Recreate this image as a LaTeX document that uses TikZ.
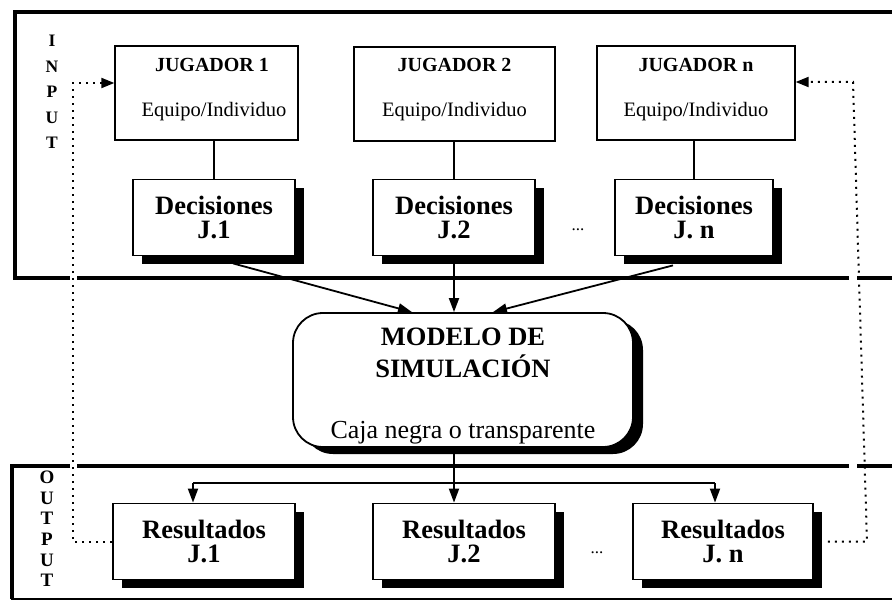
\documentclass[tikz,border=0pt]{standalone}
\usepackage{fontspec}
\setmainfont{Liberation Serif}
\usetikzlibrary{arrows.meta,shadows,calc}
\begin{document}
\begin{tikzpicture}[x=1pt,y=-1pt,
  frame/.style={line width=4.5pt},
  jbox/.style={draw, line width=1.3pt, minimum width=#1, minimum height=94pt, inner sep=0pt},
  jtitle/.style={anchor=base, font=\bfseries\fontsize{20}{20}\selectfont, inner sep=0pt},
  jsub/.style={anchor=base, font=\fontsize{20.5}{20.5}\selectfont, inner sep=0pt},
  sbox/.style={draw, line width=1.8pt, fill=white, inner sep=0pt, align=center,
    minimum width=#1, minimum height=76pt,
    font=\bfseries\fontsize{26.5}{24.5}\selectfont,
    drop shadow={shadow xshift=9pt, shadow yshift=-8pt, fill=black, opacity=1}},
  mbox/.style={draw, line width=1.8pt, fill=white, rounded corners=30pt,
    minimum width=340pt, minimum height=134pt, inner sep=0pt,
    drop shadow={shadow xshift=10pt, shadow yshift=-7pt, fill=black, opacity=1}},
  arr/.style={line width=1.8pt, -{Triangle[length=14pt,width=10pt]}},
  conn/.style={line width=1.5pt},
  fb/.style={line width=2pt, dash pattern=on 2pt off 5pt,
    -{Triangle[length=13pt,width=10pt]}},
  side/.style={align=center, inner sep=0pt, anchor=north},
  dots/.style={font=\fontsize{17}{17}\selectfont, inner sep=0pt}
]
\useasboundingbox (0,0) rectangle (892,602);

% frames
\draw[frame, line join=miter] (892,12) -- (15,12) -- (15,278) -- (892,278);
\draw[frame, line join=miter] (892,466) -- (12,466) -- (12,599);
\draw[line width=2.5pt] (11,599) -- (892,599);

% side labels
\node[side, font=\bfseries\fontsize{17.5}{25.5}\selectfont] (inlbl) at (52,35) {I\\N\\P\\U\\T};
\node[side, font=\bfseries\fontsize{19}{20.6}\selectfont] (outlbl) at (47,471) {O\\U\\T\\P\\U\\T};

% players
\node[jbox=183pt] (J1) at (206.5,93) {};
\node[jbox=201pt] (J2) at (454.5,94) {};
\node[jbox=198pt] (Jn) at (696,93) {};
\node[jtitle] (J1t) at (212,72) {JUGADOR 1};
\node[jtitle] (J2t) at (454.5,72) {JUGADOR 2};
\node[jtitle] (Jnt) at (696,72) {JUGADOR n};
\node[jsub] (J1s) at (214,116) {Equipo/Individuo};
\node[jsub] (J2s) at (454.5,116) {Equipo/Individuo};
\node[jsub] (Jns) at (696,116) {Equipo/Individuo};

% decisions
\node[sbox=162pt] (D1) at (214,217.5) {Decisiones\\J.1};
\node[sbox=162pt] (D2) at (454,217.5) {Decisiones\\J.2};
\node[sbox=158pt] (Dn) at (694,217.5) {Decisiones\\J. n};
\node[dots] (dd) at (578,230) {...};

\draw[conn] (D1.north) -- (D1.north |- J1.south);
\draw[conn] (D2.north) -- (D2.north |- J2.south);
\draw[conn] (Dn.north) -- (Dn.north |- Jn.south);

% model
\node[mbox] (M) at (463,380) {};
\node[anchor=base, align=center, inner sep=0pt, font=\bfseries\fontsize{26.5}{32}\selectfont] (Mt) at (463,377) {MODELO DE\\SIMULACIÓN};
\node[anchor=base, inner sep=0pt, font=\fontsize{26}{26}\selectfont] (Ms) at (463,438) {Caja negra o transparente};

\draw[arr] ([xshift=19pt,yshift=-7pt]D1.south) -- ([xshift=-51pt]M.north);
\draw[arr] (D2.south) -- (D2.south |- M.north);
\draw[arr] ([xshift=-21pt,yshift=-9pt]Dn.south) -- ([xshift=30pt]M.north);

% results
\node[sbox=182pt] (R1) at (204,541.5) {Resultados\\J.1};
\node[sbox=182pt] (R2) at (464,541.5) {Resultados\\J.2};
\node[sbox=180pt] (Rn) at (723,541.5) {Resultados\\J. n};
\node[dots] (rd) at (597,553) {...};

\coordinate (hl) at (193,483);
\coordinate (hr) at (715,483);
\coordinate (hc) at (454,483);
\draw[conn] (hl) -- (hr);
\draw[arr] (hc |- M.south) -- (hc |- R2.north);
\draw[arr] (hl) -- (hl |- R1.north);
\draw[arr] (hr) -- (hr |- Rn.north);

% gaps in frame lines where feedback lines cross
\fill[white] (70,272) rectangle (77,284);
\fill[white] (70,461) rectangle (77,472);
\fill[white] (849,272) rectangle (857,284);
\fill[white] (849,461) rectangle (857,472);

% feedback
\coordinate (fl) at (73,83);
\coordinate (fr) at (853,82);
\draw[fb] (R1.west) -- (R1.west -| fl) -- (fl) -- (fl -| J1.west);
\draw[fb] ([xshift=14pt]Rn.east) -- ([xshift=14pt]Rn.east -| fr) -- (fr) -- (fr -| Jn.east);
\end{tikzpicture}
\end{document}
